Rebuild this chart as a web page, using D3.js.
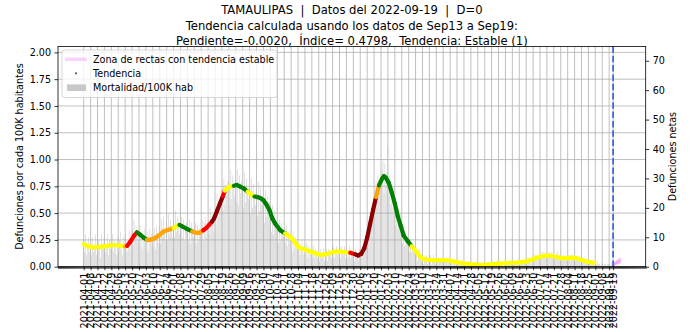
<!DOCTYPE html>
<html>
<head>
<meta charset="utf-8">
<script src="https://cdn.jsdelivr.net/npm/d3@7"></script>
<style>
  body { margin: 0; background: #fff; }
  svg { display: block; }
  text { font-family: "DejaVu Sans", sans-serif; fill: #000; }
</style>
</head>
<body>
<svg id="chart" width="692" height="332"></svg>
<script>
// ---- data ----
const titleLines = [
  "TAMAULIPAS  |  Datos del 2022-09-19  |  D=0",
  "Tendencia calculada usando los datos de Sep13 a Sep19:",
  "Pendiente=-0.0020,  Índice= 0.4798,  Tendencia: Estable (1)"
];
const startDate = "2021-04-01";
const cutoffDate = "2022-09-19";
const domainDates = ["2021-03-06", "2022-10-22"];

// daily net deaths, one row per week starting 2021-04-01
const defuncionesDiarias = [
  9,5,11,4,7,10,5,  8,4,10,5,6,11,4,  5,9,7,3,11,6,8,  10,5,7,11,4,9,6,
  6,11,5,9,7,4,10,  5,9,12,6,4,10,7,  11,6,5,9,12,6,8,  13,7,16,9,14,12,8,
  9,14,7,12,6,11,13,  8,6,12,5,13,9,11,  11,7,13,6,14,10,8,  14,8,16,10,17,12,9,
  15,9,18,11,16,14,10,  16,10,19,12,17,15,11,  12,17,10,16,9,14,15,  13,9,16,8,15,12,10,
  10,15,8,14,9,13,11,  11,16,9,15,17,10,13,  16,11,20,13,18,15,12,  20,14,25,17,23,19,24,
  26,19,30,21,28,24,29,  29,21,33,23,31,27,24,  30,22,33,21,31,25,29,  27,20,32,22,30,25,23,
  26,18,30,20,28,23,21,  25,17,29,19,27,21,24,  23,15,26,17,24,18,22,  18,12,21,11,19,15,13,
  14,8,16,9,15,11,10,  13,8,14,7,12,9,11,  11,5,12,6,10,8,6,  7,8,4,6,9,5,4,
  7,4,8,3,7,4,6,  6,3,7,3,6,5,3,  5,2,6,3,4,6,2,  3,6,2,6,4,5,3,
  6,7,3,5,7,4,5,  6,3,7,5,4,7,3,  6,3,5,7,3,5,4,  5,2,6,3,4,2,6,
  3,5,7,4,8,5,6,  9,13,16,12,19,15,20,  20,26,29,22,31,25,28,  27,33,36,25,35,29,32,
  41,24,31,21,28,20,26,  21,14,22,13,20,14,18,  13,8,14,7,12,9,8,  8,5,9,5,8,7,5,
  5,6,2,4,6,3,2,  4,1,3,2,4,1,3,  2,4,1,2,4,2,1,  2,2,3,2,2,3,2,
  3,2,2,2,3,2,2, 2,2,1,2,2,2,1, 1,2,1,1,2,1,1, 1,1,1,0,1,1,2,
  1,0,1,1,0,1,1, 0,1,1,0,1,1,0, 1,0,1,1,1,0,1, 1,1,0,1,1,1,2,
  1,1,2,1,1,0,1, 1,2,1,1,1,2,1, 2,1,1,2,1,1,2, 1,2,2,1,2,1,2,
  2,2,3,2,2,1,2, 3,2,4,3,3,2,3, 4,3,5,3,5,3,4, 4,3,5,4,3,5,3,
  3,4,3,3,5,3,3, 3,2,3,4,3,3,2, 3,4,3,2,3,4,3, 3,2,3,3,2,3,3,
  2,2,3,2,1,2,2, 2,1,2,1,2,1,1, 1,1,2,1,1,0,1, 1,0,1,1,0,1,1,
  1,0,1,0,1
];

// trend (deaths per 100K) at day offsets from startDate, with the trend class of each stretch
const trendDays = [0,5,10,17,22,27,32,37,42,44,47,51,54,57,61,64,66,71,76,81,86,91,94,97,100,105,110,113,115,118,121,124,127,130,132,135,138,141,143,145,148,152,155,158,162,166,170,173,176,179,182,185,188,191,194,199,204,209,213,216,219,224,230,235,240,245,250,255,260,265,270,275,278,281,284,287,290,293,296,299,302,304,306,309,312,315,318,321,324,328,332,336,340,343,348,355,362,368,374,381,390,402,410,419,427,435,442,449,455,462,469,474,479,484,489,494,499,505,510,517,523,530,536];
const trendValues = [0.21,0.19,0.18,0.186,0.19,0.20,0.20,0.198,0.19,0.195,0.23,0.29,0.32,0.30,0.27,0.25,0.25,0.26,0.29,0.33,0.345,0.36,0.38,0.39,0.375,0.35,0.33,0.318,0.315,0.32,0.34,0.36,0.39,0.42,0.45,0.52,0.59,0.66,0.71,0.73,0.745,0.755,0.762,0.75,0.73,0.70,0.67,0.655,0.65,0.64,0.62,0.58,0.53,0.45,0.40,0.34,0.31,0.28,0.24,0.20,0.175,0.16,0.14,0.125,0.11,0.115,0.13,0.14,0.14,0.135,0.13,0.115,0.105,0.12,0.17,0.27,0.40,0.53,0.65,0.76,0.82,0.845,0.83,0.78,0.69,0.59,0.47,0.38,0.29,0.24,0.19,0.15,0.10,0.075,0.065,0.06,0.06,0.06,0.05,0.035,0.025,0.018,0.02,0.028,0.032,0.037,0.04,0.05,0.07,0.093,0.105,0.10,0.09,0.08,0.078,0.085,0.08,0.06,0.047,0.035,0.025,0.02,0.016];
const trendClasses = "YYYYYYYYORRRGGGOOOOOOYYGGGOOOORRRDDDDRYYYGGGGYYGGGGGGGGGYYYYYYYYYYYYYYRDDDDDDDOGGGGGGGGGGGYYYYYYYYYYYYYYYYYYYYYYYYYYYYY";
const classColors = { Y: "#ffff00", O: "#ffa500", R: "#ff0000", D: "#8b0000", G: "#008000" };

// projected stable-trend lines after the cutoff: [start value, end value]
const stableLines = [[0.02, 0.045], [0.02, 0.06], [0.02, 0.078]];
const stableEnd = "2022-09-27";

const leftTicks = [0, 0.25, 0.5, 0.75, 1.0, 1.25, 1.5, 1.75, 2.0];
const rightTicks = [0, 10, 20, 30, 40, 50, 60, 70];
const legendLabels = ["Zona de rectas con tendencia estable", "Tendencia", "Mortalidad/100K hab"];

// ---- layout ----
const plot = { left: 58, right: 645.7, top: 46.5, bottom: 266.7 };
const parse = d3.utcParse("%Y-%m-%d");
const fmt = d3.utcFormat("%Y-%m-%d");
const t0 = parse(startDate);
const tCut = parse(cutoffDate);

const x = d3.scaleUtc().domain(domainDates.map(parse)).range([plot.left, plot.right]);
const yL = d3.scaleLinear().domain([0, 2.055]).range([plot.bottom, plot.top]);
const yR = d3.scaleLinear().domain([0, 74.85]).range([plot.bottom, plot.top]);

const svg = d3.select("#chart");
const fs = 9.6;

// weekly major ticks plus the cutoff day
const weekly = d3.utcDay.range(t0, d3.utcDay.offset(tCut, 1), 7);
const majorTicks = weekly.concat([tCut]);

// daily bars
svg.append("g").selectAll("rect").data(defuncionesDiarias).join("rect")
  .attr("x", (d, i) => x(d3.utcDay.offset(t0, i)) - 0.27)
  .attr("width", 0.54)
  .attr("y", d => yR(d))
  .attr("height", d => yR(0) - yR(d))
  .attr("fill", "#c8c8c8");

// grid
const grid = svg.append("g").attr("stroke", "#b0b0b0").attr("stroke-width", 0.8);
grid.selectAll("line.v").data(majorTicks).join("line")
  .attr("x1", d => x(d)).attr("x2", d => x(d))
  .attr("y1", plot.top).attr("y2", plot.bottom);
grid.selectAll("line.h").data(leftTicks).join("line")
  .attr("x1", plot.left).attr("x2", plot.right)
  .attr("y1", d => yL(d)).attr("y2", d => yL(d));

// trend, drawn stretch by stretch in its class colour
const trendPts = trendDays.map((d, i) => ({ t: d3.utcDay.offset(t0, d), v: trendValues[i], c: trendClasses[i] }));
const line = d3.line().x(d => x(d.t)).y(d => yL(d.v));
const trendG = svg.append("g").attr("fill", "none").attr("stroke-width", 4.2).attr("stroke-linecap", "round");
for (let i = 0; i < trendPts.length - 1; i++) {
  trendG.append("path")
    .attr("d", line([trendPts[i], trendPts[i + 1]]))
    .attr("stroke", classColors[trendPts[i].c]);
}

// stable-trend zone
const sEnd = parse(stableEnd);
svg.append("g").selectAll("line").data(stableLines).join("line")
  .attr("x1", x(tCut)).attr("y1", d => yL(d[0]))
  .attr("x2", x(sEnd)).attr("y2", d => yL(d[1]))
  .attr("stroke", "#ee82ee").attr("stroke-opacity", 0.35).attr("stroke-width", 3);

// cutoff marker
svg.append("line")
  .attr("x1", x(tCut)).attr("x2", x(tCut))
  .attr("y1", plot.top).attr("y2", plot.bottom)
  .attr("stroke", "#4169e1").attr("stroke-width", 1.8).attr("stroke-dasharray", "6.5,2.8");

// frame
svg.append("rect")
  .attr("x", plot.left).attr("y", plot.top)
  .attr("width", plot.right - plot.left).attr("height", plot.bottom - plot.top)
  .attr("fill", "none").attr("stroke", "#000").attr("stroke-width", 0.8);

// axes
function styleAxis(g) {
  g.select(".domain").remove();
  g.selectAll(".tick line").attr("stroke", "#000").attr("stroke-width", 0.8);
  g.selectAll("text").attr("font-size", fs).attr("font-family", "DejaVu Sans").attr("fill", "#000");
}
svg.append("g").attr("transform", `translate(${plot.left},0)`)
  .call(d3.axisLeft(yL).tickValues(leftTicks).tickFormat(d3.format(".2f")).tickSize(3.5).tickPadding(3.5))
  .call(styleAxis);
svg.append("g").attr("transform", `translate(${plot.right},0)`)
  .call(d3.axisRight(yR).tickValues(rightTicks).tickFormat(d3.format("d")).tickSize(3.5).tickPadding(3.5))
  .call(styleAxis);

// minor daily ticks
svg.append("g").attr("transform", `translate(0,${plot.bottom})`)
  .call(d3.axisBottom(x).ticks(d3.utcDay.every(1)).tickFormat("").tickSize(2))
  .call(styleAxis);
// major weekly ticks with vertical labels
svg.append("g").attr("transform", `translate(0,${plot.bottom})`)
  .call(d3.axisBottom(x).tickValues(majorTicks).tickFormat(fmt).tickSize(3.5))
  .call(styleAxis)
  .selectAll("text")
  .attr("transform", "rotate(-90)")
  .attr("x", -6).attr("y", 0).attr("dy", "0.35em")
  .style("text-anchor", "end");

// axis titles
svg.append("text")
  .attr("transform", `translate(20,${(plot.top + plot.bottom) / 2}) rotate(-90)`)
  .attr("text-anchor", "middle").attr("dy", "0.35em").attr("font-size", fs)
  .text("Defunciones por cada 100K habitantes");
svg.append("text")
  .attr("transform", `translate(673,${(plot.top + plot.bottom) / 2}) rotate(-90)`)
  .attr("text-anchor", "middle").attr("dy", "0.35em").attr("font-size", fs)
  .text("Defunciones netas");

// title
svg.append("g").selectAll("text").data(titleLines).join("text")
  .attr("x", (plot.left + plot.right) / 2)
  .attr("y", (d, i) => 14 + i * 15.5)
  .attr("text-anchor", "middle").attr("font-size", 11.6)
  .style("white-space", "pre")
  .text(d => d);

// legend
const lg = svg.append("g").attr("transform", "translate(62,50)");
lg.append("rect").attr("width", 215).attr("height", 47.5).attr("rx", 2.5)
  .attr("fill", "#fff").attr("fill-opacity", 0.8).attr("stroke", "#cccccc").attr("stroke-width", 0.8);
const rowY = [9.3, 23.3, 37.7];
lg.append("line").attr("x1", 3).attr("x2", 25).attr("y1", rowY[0]).attr("y2", rowY[0])
  .attr("stroke", "#ee82ee").attr("stroke-opacity", 0.35).attr("stroke-width", 3.5);
lg.append("circle").attr("cx", 14).attr("cy", rowY[1]).attr("r", 1.1).attr("fill", "#555");
lg.append("rect").attr("x", 5).attr("y", rowY[2] - 3.3).attr("width", 19).attr("height", 6.6).attr("fill", "#c8c8c8");
lg.selectAll("text.l").data(legendLabels).join("text")
  .attr("x", 31).attr("y", (d, i) => rowY[i]).attr("dy", "0.35em")
  .attr("font-size", fs).text(d => d);
</script>
</body>
</html>
